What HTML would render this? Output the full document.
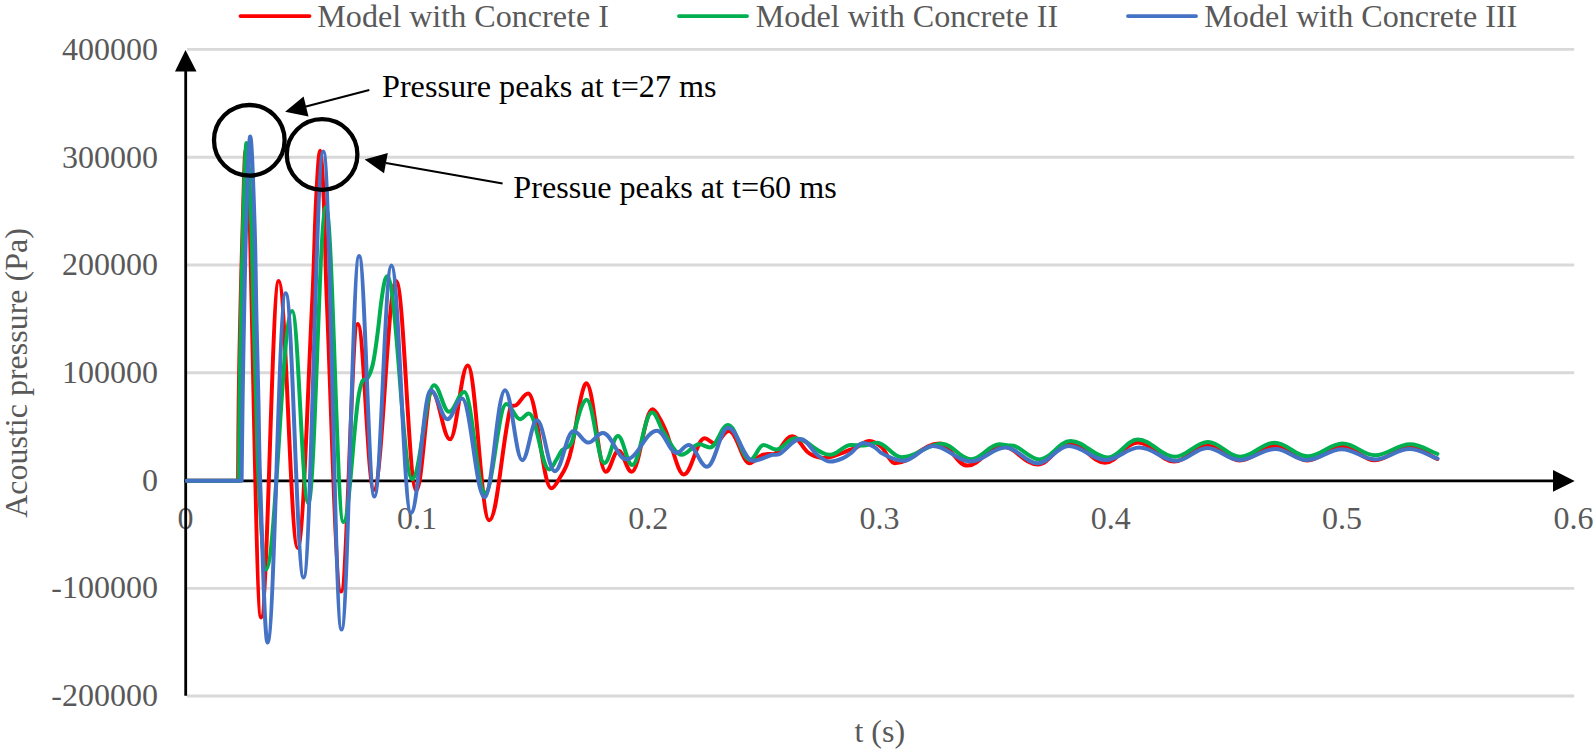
<!DOCTYPE html>
<html lang="en"><head><meta charset="utf-8"><title>Acoustic pressure chart</title>
<style>
html,body{margin:0;padding:0;background:#fff;}
body{width:1594px;height:749px;overflow:hidden;font-family:"Liberation Serif","Times New Roman",serif;}
svg{display:block;}
</style></head><body>
<svg width="1594" height="749" viewBox="0 0 1594 749" font-family="'Liberation Serif', 'Times New Roman', serif">
<rect width="1594" height="749" fill="#fff"/>
<line x1="187" y1="49.4" x2="1574.2" y2="49.4" stroke="#D9D9D9" stroke-width="2.9"/>
<line x1="187" y1="157.2" x2="1574.2" y2="157.2" stroke="#D9D9D9" stroke-width="2.9"/>
<line x1="187" y1="265.0" x2="1574.2" y2="265.0" stroke="#D9D9D9" stroke-width="2.9"/>
<line x1="187" y1="372.8" x2="1574.2" y2="372.8" stroke="#D9D9D9" stroke-width="2.9"/>
<line x1="187" y1="588.4" x2="1574.2" y2="588.4" stroke="#D9D9D9" stroke-width="2.9"/>
<line x1="187" y1="696.0" x2="1574.2" y2="696.0" stroke="#D9D9D9" stroke-width="2.9"/>
<text x="158.0" y="59.9" text-anchor="end" fill="#595959" font-size="32" >400000</text>
<text x="158.0" y="167.6" text-anchor="end" fill="#595959" font-size="32" >300000</text>
<text x="158.0" y="275.2" text-anchor="end" fill="#595959" font-size="32" >200000</text>
<text x="158.0" y="382.9" text-anchor="end" fill="#595959" font-size="32" >100000</text>
<text x="158.0" y="490.6" text-anchor="end" fill="#595959" font-size="32" >0</text>
<text x="158.0" y="598.2" text-anchor="end" fill="#595959" font-size="32" >-100000</text>
<text x="158.0" y="705.9" text-anchor="end" fill="#595959" font-size="32" >-200000</text>
<text x="185.6" y="529.2" text-anchor="middle" fill="#595959" font-size="32" >0</text>
<text x="416.9" y="529.2" text-anchor="middle" fill="#595959" font-size="32" >0.1</text>
<text x="648.2" y="529.2" text-anchor="middle" fill="#595959" font-size="32" >0.2</text>
<text x="879.5" y="529.2" text-anchor="middle" fill="#595959" font-size="32" >0.3</text>
<text x="1110.8" y="529.2" text-anchor="middle" fill="#595959" font-size="32" >0.4</text>
<text x="1342.1" y="529.2" text-anchor="middle" fill="#595959" font-size="32" >0.5</text>
<text x="1573.4" y="529.2" text-anchor="middle" fill="#595959" font-size="32" >0.6</text>
<text x="879.8" y="742.0" text-anchor="middle" fill="#595959" font-size="32" >t (s)</text>
<text transform="translate(27.3,373.0) rotate(-90)" text-anchor="middle" fill="#595959" font-size="32">Acoustic pressure (Pa)</text>
<line x1="240.5" y1="16.1" x2="309.5" y2="16.1" stroke="#FF0000" stroke-width="3.9" stroke-linecap="round"/>
<text x="317.3" y="26.6" text-anchor="start" fill="#595959" font-size="32.12" >Model with Concrete I</text>
<line x1="679" y1="16.1" x2="747" y2="16.1" stroke="#00B050" stroke-width="3.9" stroke-linecap="round"/>
<text x="755.8" y="26.6" text-anchor="start" fill="#595959" font-size="32.12" >Model with Concrete II</text>
<line x1="1128" y1="16.1" x2="1196" y2="16.1" stroke="#4472C4" stroke-width="3.9" stroke-linecap="round"/>
<text x="1204.3" y="26.6" text-anchor="start" fill="#595959" font-size="32.12" >Model with Concrete III</text>
<line x1="185.7" y1="695.8" x2="185.7" y2="70" stroke="#000" stroke-width="2.8"/>
<polygon points="185.5,50 175,71.5 196.5,71.5" fill="#000"/>
<line x1="184.29999999999998" y1="480.9" x2="1555" y2="480.9" stroke="#000" stroke-width="2.8"/>
<polygon points="1574.7,480.9 1553,470 1553,491.7" fill="#000"/>
<path d="M186.80 480.75L238.10 480.75C238.30 454.10 238.35 426.65 238.70 400.00C239.04 373.60 239.60 346.40 240.20 320.00C240.89 289.64 241.64 258.36 242.60 228.00C243.42 202.25 244.46 150.00 245.60 150.00C251.45 150.00 255.15 617.50 261.00 617.50C267.73 617.50 271.97 281.00 278.70 281.00C285.92 281.00 290.48 548.00 297.70 548.00C303.25 548.00 307.97 381.87 312.30 300.00C314.08 266.36 314.44 231.64 316.20 198.00C317.02 182.36 318.62 150.70 320.10 150.70C321.47 150.70 323.00 182.36 323.70 198.00C325.21 231.64 325.32 266.36 326.80 300.00C331.03 396.22 335.60 591.50 341.00 591.50C347.38 591.50 351.42 324.00 357.80 324.00C363.88 324.00 367.72 490.00 373.80 490.00C382.31 490.00 387.69 281.00 396.20 281.00C403.84 281.00 408.66 490.50 416.30 490.50C422.27 490.50 426.03 392.00 432.00 392.00C438.84 392.00 443.16 439.30 450.00 439.30C456.73 439.30 460.97 365.40 467.70 365.40C475.87 365.40 481.03 520.30 489.20 520.30C497.29 520.30 501.73 444.02 510.50 407.00C510.98 404.97 514.84 406.26 516.50 405.00C520.80 401.75 523.75 393.60 528.20 393.60C537.02 393.60 542.58 488.30 551.40 488.30C554.67 488.30 557.48 481.30 560.00 477.50C562.49 473.75 564.84 469.69 566.50 465.50C568.72 459.90 570.44 453.89 571.70 448.00C574.74 433.80 576.70 418.95 579.50 404.70C580.59 399.14 581.79 393.40 583.50 388.00C584.05 386.25 585.24 383.20 586.30 383.20C593.71 383.20 598.39 471.80 605.80 471.80C610.59 471.80 613.61 450.80 618.40 450.80C623.45 450.80 626.65 471.80 631.70 471.80C639.60 471.80 644.60 409.30 652.50 409.30C655.16 409.30 657.59 414.85 659.50 418.00C662.17 422.39 664.31 427.26 666.30 432.00C667.85 435.70 668.68 439.79 670.20 443.50C674.42 453.79 678.57 474.40 683.70 474.40C691.64 474.40 696.66 438.20 704.60 438.20C708.36 438.20 710.74 443.50 714.50 443.50C720.01 443.50 723.49 431.00 729.00 431.00C736.90 431.00 741.90 463.20 749.80 463.20C752.54 463.20 754.60 459.81 757.00 458.20C758.63 457.11 760.17 455.70 762.00 455.00C763.88 454.28 766.01 454.24 768.00 454.00C770.47 453.71 773.50 454.87 775.50 453.40C781.87 448.71 785.85 436.20 792.20 436.20C797.75 436.20 801.73 446.63 806.80 451.40C808.43 452.93 810.32 454.38 812.40 455.20C815.91 456.59 819.28 458.00 823.50 458.00C830.42 458.00 835.77 455.04 841.70 453.20C844.00 452.49 846.14 451.15 848.40 450.30C850.54 449.50 852.91 449.11 855.00 448.20C859.95 446.04 864.11 441.00 869.70 441.00C874.30 441.00 878.40 444.35 881.80 447.30C884.77 449.87 885.94 454.14 888.40 457.20C890.19 459.42 892.24 463.20 894.60 463.20C911.62 463.20 922.38 443.50 939.40 443.50C950.04 443.50 956.76 465.60 967.40 465.60C980.17 465.60 988.23 446.00 1001.00 446.00C1014.95 446.00 1023.75 464.50 1037.70 464.50C1049.97 464.50 1057.73 443.00 1070.00 443.00C1083.30 443.00 1091.70 462.70 1105.00 462.70C1117.54 462.70 1125.46 442.50 1138.00 442.50C1151.68 442.50 1160.32 461.50 1174.00 461.50C1186.73 461.50 1194.77 445.50 1207.50 445.50C1219.66 445.50 1227.34 460.50 1239.50 460.50C1252.99 460.50 1261.51 446.00 1275.00 446.00C1287.16 446.00 1294.84 460.50 1307.00 460.50C1320.30 460.50 1328.70 446.20 1342.00 446.20C1354.54 446.20 1362.46 460.30 1375.00 460.30C1388.19 460.30 1396.51 446.50 1409.70 446.50C1420.23 446.50 1428.26 454.88 1437.40 459.00" fill="none" stroke="#FF0000" stroke-width="4" stroke-linejoin="round" stroke-linecap="round"/>
<path d="M186.80 480.75L238.90 480.75C239.10 454.10 239.17 426.65 239.50 400.00C239.83 373.60 240.36 346.40 240.90 320.00C241.54 288.65 242.11 256.34 243.10 225.00C243.96 197.93 245.21 143.00 246.50 143.00C248.29 143.00 250.15 195.90 251.20 222.00C252.50 254.32 252.71 287.66 253.60 320.00C254.33 346.40 255.28 373.60 256.10 400.00C256.93 426.40 257.08 453.63 258.60 480.00C260.31 509.58 263.13 569.50 265.90 569.50C275.86 569.50 282.14 311.00 292.10 311.00C298.26 311.00 302.14 503.20 308.30 503.20C315.03 503.20 319.27 207.00 326.00 207.00C332.61 207.00 336.79 522.00 343.40 522.00C348.95 522.00 352.56 440.18 358.00 400.00C358.87 393.55 359.90 386.77 362.50 380.80C363.24 379.10 366.50 379.77 367.50 378.20C370.05 374.17 371.64 369.35 372.70 364.70C374.92 354.96 376.05 344.70 377.40 334.80C378.83 324.33 379.70 313.47 381.10 303.00C382.01 296.18 382.89 289.12 384.40 282.40C384.88 280.25 386.07 276.30 387.10 276.30C396.64 276.30 402.66 479.00 412.20 479.00C420.48 479.00 425.72 385.20 434.00 385.20C439.70 385.20 443.30 411.80 449.00 411.80C454.81 411.80 458.49 392.00 464.30 392.00C472.17 392.00 477.13 493.00 485.00 493.00C493.09 493.00 498.21 404.00 506.30 404.00C511.51 404.00 514.79 419.20 520.00 419.20C523.38 419.20 525.52 413.60 528.90 413.60C536.65 413.60 541.55 469.50 549.30 469.50C552.04 469.50 554.25 462.89 556.50 459.50C558.48 456.51 559.65 452.82 562.10 450.20C564.48 447.65 569.18 447.29 570.80 444.20C574.33 437.47 574.77 429.29 576.90 422.00C578.50 416.52 579.81 410.73 582.10 405.50C583.06 403.30 584.89 399.80 586.60 399.80C593.36 399.80 597.64 463.10 604.40 463.10C609.57 463.10 612.83 435.90 618.00 435.90C623.36 435.90 626.74 465.00 632.10 465.00C639.66 465.00 644.44 412.50 652.00 412.50C656.41 412.50 659.31 425.86 663.60 432.00C669.07 439.82 674.70 454.70 681.50 454.70C688.26 454.70 692.54 444.30 699.30 444.30C703.37 444.30 705.93 447.50 710.00 447.50C716.88 447.50 721.22 425.00 728.10 425.00C736.42 425.00 741.68 460.00 750.00 460.00C755.17 460.00 758.43 445.10 763.60 445.10C768.39 445.10 771.41 449.60 776.20 449.60C783.34 449.60 787.86 438.20 795.00 438.20C808.38 438.20 816.82 454.80 830.20 454.80C838.10 454.80 843.10 445.00 851.00 445.00C855.56 445.00 858.44 445.60 863.00 445.60C868.32 445.60 871.68 442.70 877.00 442.70C886.39 442.70 892.31 457.20 901.70 457.20C916.94 457.20 926.56 443.70 941.80 443.70C952.90 443.70 959.90 459.30 971.00 459.30C981.83 459.30 988.67 444.30 999.50 444.30C1002.73 444.30 1005.19 445.05 1008.00 445.40C1010.47 445.71 1013.22 445.29 1015.50 446.30C1023.78 449.97 1030.44 459.40 1039.60 459.40C1051.34 459.40 1058.76 441.00 1070.50 441.00C1084.75 441.00 1093.75 457.50 1108.00 457.50C1119.32 457.50 1126.48 439.50 1137.80 439.50C1151.82 439.50 1160.68 456.80 1174.70 456.80C1187.35 456.80 1195.35 441.90 1208.00 441.90C1220.20 441.90 1227.90 456.80 1240.10 456.80C1253.21 456.80 1261.49 442.70 1274.60 442.70C1287.06 442.70 1294.94 456.30 1307.40 456.30C1320.81 456.30 1329.29 443.50 1342.70 443.50C1354.97 443.50 1362.73 455.30 1375.00 455.30C1388.34 455.30 1396.76 444.20 1410.10 444.20C1420.47 444.20 1428.39 450.70 1437.40 453.90" fill="none" stroke="#00B050" stroke-width="4" stroke-linejoin="round" stroke-linecap="round"/>
<path d="M186.80 480.75L241.60 480.75C241.93 454.10 242.20 426.65 242.60 400.00C242.99 373.60 243.46 346.40 244.00 320.00C244.68 287.00 245.19 252.99 246.30 220.00C247.23 192.43 248.72 136.50 250.20 136.50C251.83 136.50 253.53 193.77 254.50 222.00C255.61 254.33 255.79 287.66 256.50 320.00C257.08 346.40 257.81 373.60 258.40 400.00C258.99 426.40 259.11 453.61 260.10 480.00C262.11 533.64 264.69 642.50 267.50 642.50C274.42 642.50 278.78 293.30 285.70 293.30C292.50 293.30 296.80 577.50 303.60 577.50C311.12 577.50 315.88 151.60 323.40 151.60C330.28 151.60 334.62 629.60 341.50 629.60C348.19 629.60 352.41 256.00 359.10 256.00C364.91 256.00 368.59 496.60 374.40 496.60C380.86 496.60 384.94 265.50 391.40 265.50C398.81 265.50 403.49 512.90 410.90 512.90C418.46 512.90 423.24 390.30 430.80 390.30C437.11 390.30 441.09 419.20 447.40 419.20C452.95 419.20 456.45 398.60 462.00 398.60C470.59 398.60 476.01 497.30 484.60 497.30C492.35 497.30 497.25 390.20 505.00 390.20C511.57 390.20 515.73 460.20 522.30 460.20C527.85 460.20 531.35 420.30 536.90 420.30C543.70 420.30 548.00 471.20 554.80 471.20C561.91 471.20 566.39 431.00 573.50 431.00C579.09 431.00 582.61 442.60 588.20 442.60C593.79 442.60 597.31 433.00 602.90 433.00C611.79 433.00 617.41 459.30 626.30 459.30C638.00 459.30 645.40 430.70 657.10 430.70C664.55 430.70 669.25 452.80 676.70 452.80C681.22 452.80 684.08 445.00 688.60 445.00C695.59 445.00 700.01 466.70 707.00 466.70C715.02 466.70 720.08 427.80 728.10 427.80C737.56 427.80 743.54 460.80 753.00 460.80C759.99 460.80 765.22 456.54 771.40 455.00C773.84 454.39 776.79 455.51 779.00 454.30C786.66 450.10 792.39 439.00 800.60 439.00C807.02 439.00 811.38 450.36 817.50 455.00C821.31 457.89 825.50 461.60 830.40 461.60C835.19 461.60 839.03 459.88 843.00 458.20C845.98 456.94 848.62 454.75 851.20 452.80C855.26 449.73 858.58 443.00 863.10 443.00C867.62 443.00 871.33 445.38 875.00 447.40C877.60 448.83 879.11 452.03 881.80 453.30C888.59 456.52 895.13 460.80 903.30 460.80C914.59 460.80 921.71 445.90 933.00 445.90C947.29 445.90 956.31 461.50 970.60 461.50C983.82 461.50 992.18 447.50 1005.40 447.50C1017.67 447.50 1025.43 463.20 1037.70 463.20C1049.56 463.20 1057.04 445.90 1068.90 445.90C1082.92 445.90 1091.78 460.00 1105.80 460.00C1118.57 460.00 1126.63 447.50 1139.40 447.50C1153.42 447.50 1162.28 460.80 1176.30 460.80C1188.04 460.80 1195.46 448.10 1207.20 448.10C1219.40 448.10 1227.10 460.00 1239.30 460.00C1253.02 460.00 1261.68 448.90 1275.40 448.90C1287.26 448.90 1294.74 460.00 1306.60 460.00C1320.01 460.00 1328.49 449.20 1341.90 449.20C1354.55 449.20 1362.55 459.40 1375.20 459.40C1388.20 459.40 1396.40 449.10 1409.40 449.10C1420.04 449.10 1428.16 455.40 1437.40 458.50" fill="none" stroke="#4472C4" stroke-width="4" stroke-linejoin="round" stroke-linecap="round"/>
<circle cx="249.3" cy="140.3" r="35.3" fill="none" stroke="#000" stroke-width="4.3"/>
<circle cx="322.1" cy="154.5" r="35.3" fill="none" stroke="#000" stroke-width="4.3"/>
<line x1="369.3" y1="90" x2="306" y2="106.5" stroke="#000" stroke-width="2"/>
<polygon points="285.1,111.7 303.6,96.4 308.5,116.5" fill="#000"/>
<line x1="502.6" y1="183.4" x2="386" y2="163" stroke="#000" stroke-width="2"/>
<polygon points="364.6,159.4 387.8,153 384,173.3" fill="#000"/>
<text x="382.0" y="96.5" text-anchor="start" fill="#000" font-size="32.2" >Pressure peaks at t=27 ms</text>
<text x="513.3" y="198.3" text-anchor="start" fill="#000" font-size="32.15" >Pressue peaks at t=60 ms</text>
</svg>
</body></html>
